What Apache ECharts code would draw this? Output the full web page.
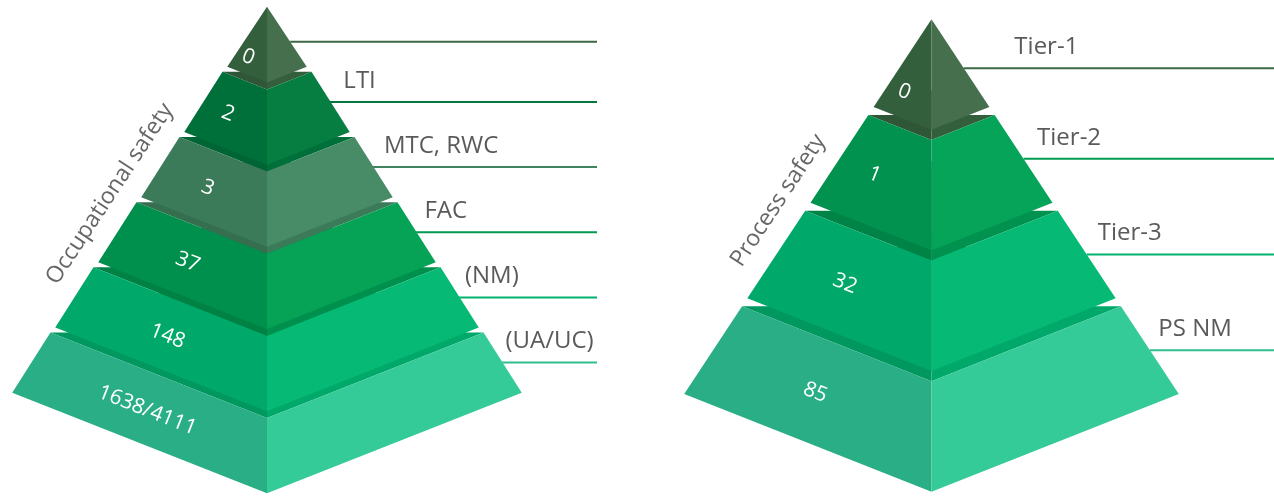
<!DOCTYPE html>
<html>
<head>
<meta charset="utf-8">
<script src="https://cdn.jsdelivr.net/npm/echarts@6/dist/echarts.min.js"></script>
<style>
html,body{margin:0;padding:0;background:#fff;}
#c{width:1274px;height:500px;}
</style>
</head>
<body>
<div id="c"></div>
<script>
// ---------------- data ----------------
const pyramidTitles = ['Occupational safety', 'Process safety'];
const occLevels = ['', 'LTI', 'MTC, RWC', 'FAC', '(NM)', '(UA/UC)'];
const occValues = ['0', '2', '3', '37', '148', '1638/4111'];
const psLevels = ['Tier-1', 'Tier-2', 'Tier-3', 'PS NM'];
const psValues = ['0', '1', '32', '85'];

// ---------------- style ----------------
const occLeftColors  = ['#345f3c', '#00703b', '#3b7b59', '#00904d', '#00a96a', '#2aae86'];
const occRightColors = ['#466f4d', '#067e42', '#478c66', '#06a255', '#06b974', '#35cb98'];
const psLeftColors   = ['#345f3c', '#00924e', '#00a96a', '#2aae86'];
const psRightColors  = ['#466f4d', '#05a458', '#06b974', '#35cb98'];
const LABEL_COLOR = '#5a5a5a';
const TITLE_COLOR = '#666666';
const FONT = '"Open Sans", "Noto Sans", sans-serif';

// ---------------- layout ----------------
const SLOPE = 0.66;   // horizontal spread of the pyramid per px of height
const DEPTH = 0.395;  // perspective drop of the front corner per px of half-width
const layouts = [
  { cx: 267,   apex: 6.7,  base: 392.7, gap: 5, flare: 1.5, lineEnd: 597 },
  { cx: 931.5, apex: 19.3, base: 394,   gap: 8, flare: 0,   lineEnd: 1274 }
];

function toRgb(hex) {
  const n = parseInt(hex.slice(1), 16);
  return [(n >> 16) & 255, (n >> 8) & 255, n & 255];
}
function shade(hex, f) {
  const c = toRgb(hex).map(v => Math.max(0, Math.min(255, Math.round(v * f))));
  return 'rgb(' + c.join(',') + ')';
}
function mix(a, b, t) {
  const x = toRgb(a), y = toRgb(b);
  return 'rgb(' + x.map((v, i) => Math.round(v + (y[i] - v) * t)).join(',') + ')';
}

function makeRender(L, levels, values, leftC, rightC, title) {
  const n = values.length;
  const H = L.base - L.apex;
  const h = (H - (n - 1) * L.gap) / n;
  return function (params, api) {
    const i = params.dataIndex;
    const cx = L.cx;
    const yt = L.apex + i * (h + L.gap);
    const yb = yt + h;
    const hwT = i === 0 ? 0 : SLOPE * (yt - L.apex) + L.flare;
    const hwB = SLOPE * (yb - L.apex);
    const P = (x, y) => api.coord([x, y]);
    const zb = (n - i) * 10;
    const kids = [];

    // top face (visible strip under the tier above), with white notch at the corners
    if (i > 0) {
      const hwBp = SLOPE * (yt - L.gap - L.apex);
      const uq = hwBp - L.gap / DEPTH;
      const back = yt - DEPTH * hwT;
      kids.push({
        type: 'polygon', z2: zb + 1,
        shape: { points: [P(cx - hwT, yt), P(cx - uq, yt), P(cx, back), P(cx, yt + DEPTH * hwT)] },
        style: { fill: shade(leftC[i - 1], 0.9) }
      });
      kids.push({
        type: 'polygon', z2: zb + 1,
        shape: { points: [P(cx + hwT, yt), P(cx + uq, yt), P(cx, back), P(cx, yt + DEPTH * hwT)] },
        style: { fill: shade(leftC[i - 1], 1.0) }
      });
    }
    // front faces
    let leftPts, rightPts;
    if (i === 0) {
      leftPts = [P(cx, L.apex), P(cx - hwB, yb), P(cx, yb + DEPTH * hwB)];
      rightPts = [P(cx, L.apex), P(cx + hwB, yb), P(cx, yb + DEPTH * hwB)];
    } else {
      leftPts = [P(cx - hwT, yt), P(cx, yt + DEPTH * hwT), P(cx, yb + DEPTH * hwB), P(cx - hwB, yb)];
      rightPts = [P(cx + hwT, yt), P(cx, yt + DEPTH * hwT), P(cx, yb + DEPTH * hwB), P(cx + hwB, yb)];
    }
    kids.push({ type: 'polygon', z2: zb + 2, shape: { points: leftPts }, style: { fill: leftC[i] } });
    kids.push({ type: 'polygon', z2: zb + 2, shape: { points: rightPts }, style: { fill: rightC[i] } });

    // value text on left face
    const u = 0.47 * hwB;
    let topY;
    if (u <= hwT) topY = yt + DEPTH * (hwT - u);
    else topY = yt + (u - hwT) * (yb - yt) / (hwB - hwT);
    const botY = yb + DEPTH * (hwB - u);
    const vp = P(cx - u, (topY + botY) / 2 + 2);
    kids.push({
      type: 'text', z2: zb + 5, x: vp[0], y: vp[1], rotation: -Math.atan(DEPTH),
      style: { text: values[i], fill: '#ffffff', fontSize: 21, fontWeight: 'normal', fontFamily: FONT,
               align: 'center', verticalAlign: 'middle' }
    });

    // leader line
    const lineY = yt + h / 2 + (i === 0 ? 5 : 0);
    const edgeX = cx + SLOPE * (lineY - L.apex);
    const a = P(edgeX, lineY), b = P(L.lineEnd, lineY);
    kids.push({
      type: 'line', z2: 0,
      shape: { x1: a[0], y1: a[1], x2: b[0], y2: b[1] },
      style: { stroke: mix(leftC[i], rightC[i], 0.5), lineWidth: 2 }
    });

    // level label
    if (levels[i]) {
      const lx = i === 0 ? cx + hwB + 25 : edgeX + 16 - 2.5 * i;
      const lp = P(lx, lineY - 21);
      kids.push({
        type: 'text', z2: 0, x: lp[0], y: lp[1],
        style: { text: levels[i], fill: LABEL_COLOR, fontSize: 24, fontFamily: FONT,
                 align: 'left', verticalAlign: 'middle' }
      });
    }

    // pyramid title along left edge
    if (i === 0) {
      const f = 0.525, d = 28;
      const ey = L.apex + f * H;
      const ex = cx - SLOPE * (ey - L.apex);
      const nl = Math.sqrt(1 + SLOPE * SLOPE);
      const tp = P(ex - d / nl, ey - d * SLOPE / nl);
      kids.push({
        type: 'text', z2: 0, x: tp[0], y: tp[1], rotation: Math.atan(1 / SLOPE),
        style: { text: title, fill: TITLE_COLOR, fontSize: 23, fontFamily: FONT,
                 align: 'center', verticalAlign: 'middle' }
      });
    }
    return { type: 'group', children: kids };
  };
}

const chart = echarts.init(document.getElementById('c'), null, { renderer: 'canvas' });
chart.setOption({
  animation: false,
  backgroundColor: '#ffffff',
  grid: { left: 0, right: 0, top: 0, bottom: 0 },
  xAxis: { type: 'value', min: 0, max: 1274, show: false },
  yAxis: { type: 'value', min: 0, max: 500, inverse: true, show: false },
  series: [
    {
      type: 'custom', name: pyramidTitles[0], coordinateSystem: 'cartesian2d',
      renderItem: makeRender(layouts[0], occLevels, occValues, occLeftColors, occRightColors, pyramidTitles[0]),
      data: occValues.map((v, i) => ({ name: occLevels[i] || 'Fatality', value: [i, 0] }))
    },
    {
      type: 'custom', name: pyramidTitles[1], coordinateSystem: 'cartesian2d',
      renderItem: makeRender(layouts[1], psLevels, psValues, psLeftColors, psRightColors, pyramidTitles[1]),
      data: psValues.map((v, i) => ({ name: psLevels[i], value: [i, 0] }))
    }
  ]
});
</script>
</body>
</html>
